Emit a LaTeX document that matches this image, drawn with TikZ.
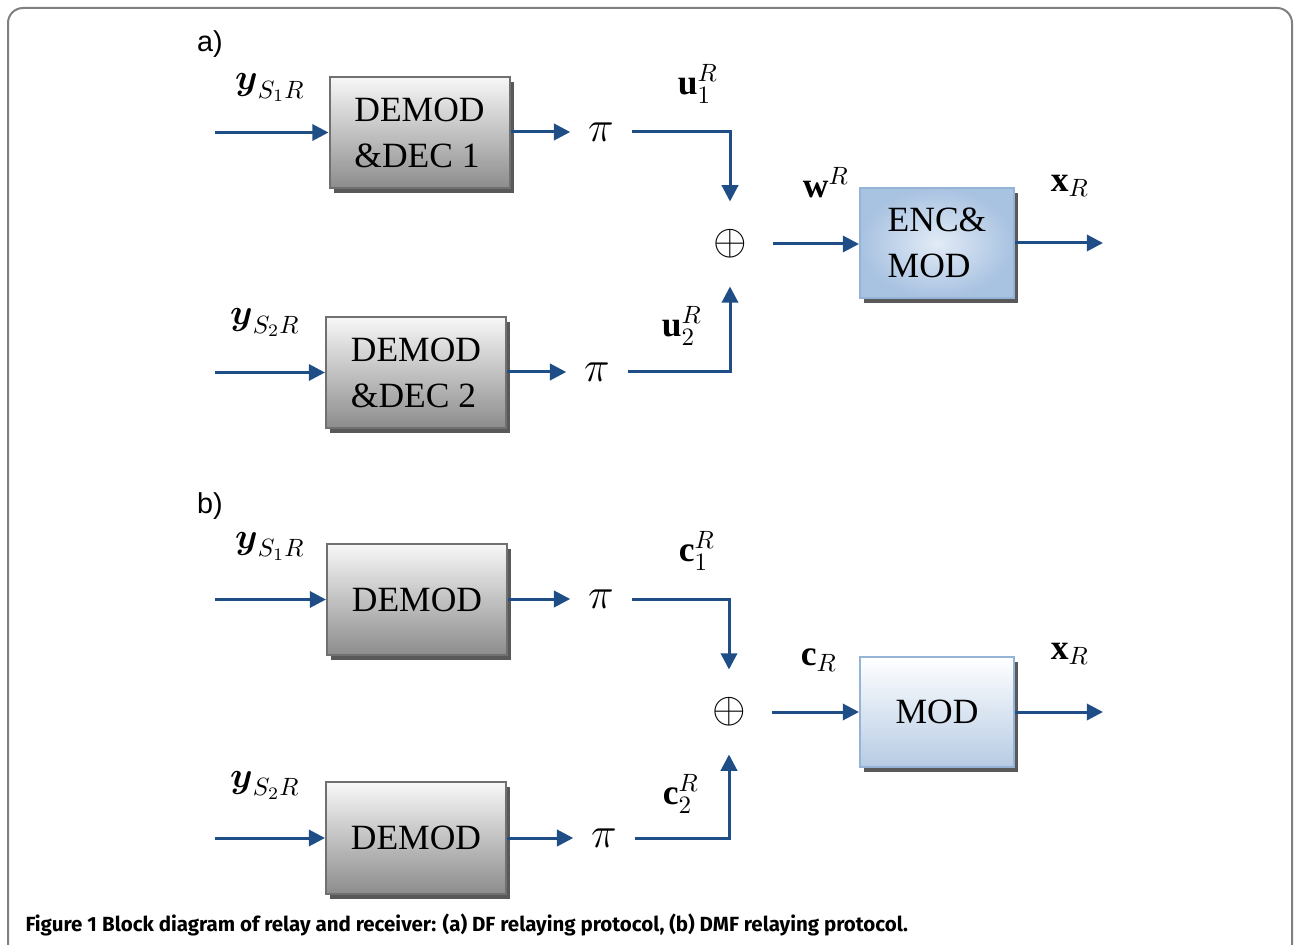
\documentclass[tikz,border=0pt]{standalone}
\usepackage{amsmath}
\usepackage{fontspec}
\setmainfont{Liberation Serif}
\setsansfont{Liberation Sans}
\newfontfamily\capfont{Fira Sans}
\usetikzlibrary{%
		arrows.meta%
		,shadows%
	}
\definecolor{sigblue}{RGB}{31,78,135}
\definecolor{boxline}{RGB}{112,112,112}
\definecolor{blueline}{RGB}{149,179,215}
\definecolor{bluelight}{RGB}{226,235,246}
\definecolor{bluedark}{RGB}{168,194,225}
\definecolor{bluebottom}{RGB}{182,203,228}
\definecolor{framegray}{RGB}{128,128,128}

\begin{document}
\begin{tikzpicture}[x=0.4pt,y=-0.4pt,
		sig/.style={sigblue, line width=1.2pt, -{Triangle[length=6.5pt,width=6.5pt]}},
		boxtext/.style={align=left, font=\fontsize{14.2}{18.4}\selectfont},
		boxshadow/.style={drop shadow={shadow xshift=1.6pt, shadow yshift=-2pt, fill=black!65, opacity=1}},
		graybox/.style={boxtext, boxshadow, draw=boxline, line width=0.8pt, top color=black!3, bottom color=black!45, minimum width=72pt, minimum height=44.6pt},
		encbox/.style={boxtext, boxshadow, draw=blueline, line width=0.8pt, inner color=bluelight, outer color=bluedark, minimum width=61.6pt, minimum height=44pt},
		modbox/.style={boxtext, boxshadow, draw=blueline, line width=0.8pt, top color=white, bottom color=bluebottom, minimum width=61.6pt, minimum height=44pt},
		pinode/.style={inner xsep=7pt, font=\fontsize{17}{19}\selectfont},
		sumnode/.style={circle, inner sep=0pt, minimum size=33.6pt, font=\fontsize{18.5}{20}\selectfont},
		lbl/.style={font=\fontsize{14.2}{17}\selectfont},
		part/.style={font=\sffamily\fontsize{11.5}{14}\selectfont}
	]
	\useasboundingbox (0,0) rectangle (1294,945);
	\draw[framegray, line width=0.8pt, rounded corners=6pt] (8,945) -- (8,8) -- (1292,8) -- (1292,945);

	% a) DF relaying
	\node[part] (pa) at (210,44) {a)};
	\node[graybox] (dd1) at (419.5,132.5) {DEMOD\\\&DEC 1};
	\node[graybox] (dd2) at (416,372.5) {DEMOD\\\&DEC 2};
	\node[pinode] (pi1) at (601,132) {$\pi$};
	\node[pinode] (pi2) at (597,372) {$\pi$};
	\node[sumnode] (sum1) at (730,244) {$\oplus$};
	\node[encbox] (enc) at (937,243) {ENC\&\\MOD};
	\coordinate (in1) at (215,132.5);
	\coordinate (in2) at (215,372.5);
	\coordinate (out1) at (1103,243);
	\node[lbl] (ly1) at (270,88) {$\boldsymbol{y}_{S_1R}$};
	\node[lbl] (ly2) at (265,323) {$\boldsymbol{y}_{S_2R}$};
	\node[lbl] (lu1) at (698,84) {$\mathbf{u}_1^R$};
	\node[lbl] (lu2) at (682,326) {$\mathbf{u}_2^R$};
	\node[lbl] (lw) at (826,183) {$\mathbf{w}^R$};
	\node[lbl] (lx1) at (1070,186) {$\mathbf{x}_R$};
	\draw[sig] (in1) -- (dd1.west);
	\draw[sig] (in2) -- (dd2.west);
	\draw[sig] (dd1.east |- pi1) -- (pi1.west);
	\draw[sig] (dd2.east |- pi2) -- (pi2.west);
	\draw[sig] (pi1.east) -| (sum1.north);
	\draw[sig] (pi2.east) -| (sum1.south);
	\draw[sig] (sum1.east) -- (enc.west |- sum1);
	\draw[sig] (enc.east) -- (out1);

	% b) DMF relaying
	\node[part] (pb) at (210,506) {b)};
	\node[graybox] (dm1) at (417,599.5) {DEMOD};
	\node[graybox] (dm2) at (416,838) {DEMOD};
	\node[pinode] (pi3) at (601,599) {$\pi$};
	\node[pinode] (pi4) at (604,838) {$\pi$};
	\node[sumnode] (sum2) at (729,712) {$\oplus$};
	\node[modbox] (mod) at (937,712) {MOD};
	\coordinate (in3) at (215,599.5);
	\coordinate (in4) at (215,838);
	\coordinate (out2) at (1103,712);
	\node[lbl] (ly3) at (270,546) {$\boldsymbol{y}_{S_1R}$};
	\node[lbl] (ly4) at (265,785) {$\boldsymbol{y}_{S_2R}$};
	\node[lbl] (lc1) at (697,551) {$\mathbf{c}_1^R$};
	\node[lbl] (lc2) at (681,794) {$\mathbf{c}_2^R$};
	\node[lbl] (lc) at (819,660) {$\mathbf{c}_R$};
	\node[lbl] (lx2) at (1070,654) {$\mathbf{x}_R$};
	\draw[sig] (in3) -- (dm1.west);
	\draw[sig] (in4) -- (dm2.west);
	\draw[sig] (dm1.east |- pi3) -- (pi3.west);
	\draw[sig] (dm2.east |- pi4) -- (pi4.west);
	\draw[sig] (pi3.east) -| (sum2.north);
	\draw[sig] (pi4.east) -| (sum2.south);
	\draw[sig] (sum2.east) -- (mod.west |- sum2);
	\draw[sig] (mod.east) -- (out2);

	\node[anchor=base west, inner xsep=0pt, font=\capfont\fontsize{8.2}{10}\selectfont] (cap) at (25,931) {\textbf{Figure 1} \textbf{Block diagram of relay and receiver: (a) DF relaying protocol, (b) DMF relaying protocol.}};
\end{tikzpicture}
\end{document}
